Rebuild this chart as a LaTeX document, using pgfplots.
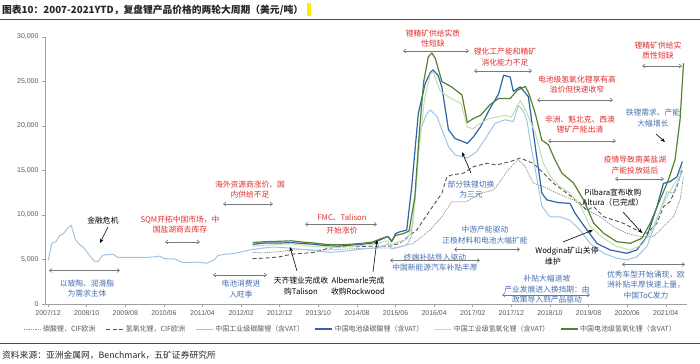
\documentclass[border=0pt]{standalone}
\usepackage{fontspec}
\setmainfont{Noto Sans CJK SC}
\newfontfamily\arialf{Liberation Sans}
\usepackage{pgfplots}
\pgfplotsset{compat=1.18}
\usetikzlibrary{arrows.meta}
\definecolor{ltblue}{RGB}{160,196,230}
\definecolor{dkblue}{RGB}{46,100,170}
\definecolor{ltgreen}{RGB}{200,220,172}
\definecolor{dkgreen}{RGB}{84,130,53}
\definecolor{dotgray}{RGB}{150,150,150}
\definecolor{dashgray}{RGB}{85,85,85}
\definecolor{axisgray}{RGB}{160,160,160}
\definecolor{ticktext}{RGB}{89,89,89}
\definecolor{redtxt}{RGB}{225,45,45}
\definecolor{bluetxt}{RGB}{70,110,175}
\definecolor{arrgray}{RGB}{120,120,120}
\newcommand\af{\fontsize{7.8}{10.5}\selectfont}
\begin{document}
\begin{tikzpicture}
\path[use as bounding box] (0,0) rectangle (700bp,364bp);
\begin{axis}[
  at={(45bp,60bp)}, anchor=south west, scale only axis,
  width=642bp, height=267bp,
  xmin=-0.8, xmax=165.5, ymin=0, ymax=30000,
  axis x line=bottom, axis y line=left,
  axis line style={-, draw=axisgray, line width=0.5bp},
  xtick={0,10,...,160},
  xticklabels={2007/12,2008/10,2009/08,2010/06,2011/04,2012/02,2012/12,2013/10,2014/08,2015/06,2016/04,2017/02,2017/12,2018/10,2019/08,2020/06,2021/04},
  ytick={0,5000,...,30000},
  scaled ticks=false,
  /pgf/number format/fixed, /pgf/number format/1000 sep={,}, /pgf/number format/assume math mode=true,
  tick align=outside, major tick length=3bp,
  tick style={draw=axisgray, line width=0.5bp},
  ticklabel style={font=\arialf\fontsize{7}{8}\selectfont, text=ticktext},
  legend style={at={(0.476,-0.094)}, anchor=center, draw=none, fill=none,
    font=\fontsize{7}{8}\selectfont, text=ticktext,
    /tikz/every even column/.append style={column sep=8.5bp}},
  legend columns=6, legend cell align=left,
  every axis plot/.append style={line join=round},
]
% carbonate CIF Europe
\addplot[dotgray, line width=0.8bp, dash pattern=on 1.3bp off 1bp] coordinates {
(53,5800)(56,5750)(60,5900)(63,6050)(66,6100)(70,6050)(74,6100)(78,6200)(82,6250)(86,6300)(90,6300)(94.6,6820)(99,8320)(102,9810)(104.6,11500)(108.4,11500)(112,12440)(115.4,12800)(117.5,14000)(119,15000)(121.8,16200)(123.5,15500)(125.7,13570)(128.3,13190)(131.8,12440)(136.1,11690)(140.4,10380)(143,9810)(146.5,8690)(149.9,7950)(153.4,7570)(156.8,7570)(159.4,8690)(162,9810)(163.7,11690)(164.6,14300)};
\addlegendentry{碳酸锂，CIF欧洲}
% hydroxide CIF Europe
\addplot[dashgray, line width=0.9bp, dash pattern=on 4bp off 2.5bp] coordinates {
(53,5100)(56,5150)(60,5300)(63,5600)(66,5700)(69,5800)(72,6200)(75.6,6450)(80,6450)(85,6500)(88.6,6500)(91,6820)(95.5,8320)(99,10570)(102,12440)(103.3,14300)(104.6,14500)(107.6,14700)(110.2,15430)(113.6,15800)(116.2,15620)(119.7,16000)(122.3,16400)(125.7,15800)(128.3,14700)(130.9,13570)(134.4,12440)(137.8,11320)(139.5,10500)(141.3,10940)(143.9,9810)(146.5,9440)(149,9070)(151.6,8500)(153.4,8130)(155.1,7950)(157.7,9070)(159.4,10940)(161.1,11500)(162.9,13190)(164.2,15060)};
\addlegendentry{氢氧化锂，CIF欧洲}
% China industrial carbonate
\addplot[ltblue, line width=1bp] coordinates {
(0,4870)(1,6850)(2,7000)(3,7700)(4,7900)(5,8500)(6,8850)(7,7300)(8,6750)(9,6400)(10,5900)(11,5300)(12,4780)(13,4800)(14,5400)(15,5550)(17,5550)(18,5250)(22,5250)(26,5250)(28,5320)(29,5380)(30,5100)(33,5050)(34,4800)(35,4650)(39,4700)(41,4580)(43,4950)(44,5450)(46,5600)(48,5650)(50,5850)(52,6050)(55,6250)(58,6400)(61,6350)(64,6200)(67,6100)(70,5950)(73,5800)(76,5900)(79,6050)(82,6200)(85,6300)(87,6500)(88,6800)(89,6200)(90,6300)(92,6500)(93,6700)(94,7500)(95,11500)(96.4,19500)(98,21300)(99,21800)(100.7,21100)(102,19600)(103.7,17700)(105.4,16750)(108.6,16400)(111,17100)(113.6,18800)(115.8,20300)(118.4,20700)(120.5,20500)(121.8,22300)(123,21800)(124,20700)(125,18000)(126.2,15100)(127.9,11000)(130,9800)(132.6,9800)(135.2,9400)(137.8,8300)(140.4,6800)(143.9,5700)(147.3,5150)(149.9,4950)(152.5,5300)(155.1,6450)(157.7,9450)(160.3,12600)(162,12450)(163.7,14300)(164.4,15000)};
\addlegendentry{中国工业级碳酸锂（含VAT）}
% China battery carbonate
\addplot[dkblue, line width=1.2bp] coordinates {
(53,6700)(56,6850)(60,6850)(63,6900)(66,6800)(69,6700)(72,6550)(75,6500)(78,6600)(81,6700)(84,6850)(86,7200)(87,7400)(88,7600)(89,7000)(90,7900)(91,8100)(92.9,8300)(94.2,13200)(95.9,21400)(97.7,24800)(99,26000)(99.7,26300)(101,25700)(102,24400)(103.7,19600)(105.4,18600)(108.6,18050)(110.2,18800)(112,19900)(114.5,22000)(116.7,23600)(118,25700)(119.7,25500)(120.5,23900)(122.3,24400)(124.4,23300)(126.2,17700)(127.9,12450)(129.2,11700)(132,11400)(135.2,11300)(136.5,10200)(139.6,8300)(142.2,6800)(145.6,6070)(149.9,5700)(152.5,6070)(155.1,7570)(157.7,10900)(159.4,13550)(161.1,13750)(162.9,14300)(164.3,16000)};
\addlegendentry{中国电池级碳酸锂（含VAT）}
% China industrial hydroxide
\addplot[ltgreen, line width=1bp] coordinates {
(53,6500)(56,6600)(60,6700)(63,6750)(66,6600)(69,6450)(72,6400)(75,6350)(78,6450)(81,6550)(84,6700)(86,6900)(88,7100)(89,6600)(90,6900)(92,7100)(93,7300)(94.5,9000)(96,17000)(97.5,23000)(99,25800)(99.7,26100)(101.6,23900)(104,23200)(107,22500)(108.6,19900)(110,19700)(112,20300)(114,20800)(116,21000)(118.5,21200)(120,21000)(122.3,22900)(124,21500)(126.2,19200)(128.3,15800)(130.5,14100)(132.6,13200)(135.2,12450)(137.8,11150)(140.4,8700)(143.9,7400)(147.3,6450)(150.8,6070)(153.8,6630)(156.4,8300)(159,10950)(161,12600)(162.9,14000)(164.2,15400)};
\addlegendentry{中国工业级氢氧化锂（含VAT）}
% China battery hydroxide
\addplot[dkgreen, line width=1.2bp] coordinates {
(53,6900)(56,7000)(60,7050)(63,7100)(66,6950)(69,6850)(72,6700)(75,6650)(78,6700)(81,6800)(84,6950)(86,7300)(88,7600)(89,7100)(90,7700)(92,7900)(93.5,8200)(95,12000)(96.2,19500)(97.3,25000)(98.5,27800)(99.4,28200)(100.3,27600)(102,25000)(104.5,24400)(107.2,23500)(108.6,20400)(110,20800)(112,21200)(114.5,22400)(116.7,23100)(119.7,23100)(121.5,24000)(123.6,24450)(124.5,23700)(126.2,21400)(127.9,18400)(129.6,17900)(131.3,16200)(133.1,14700)(136.1,13600)(138.7,11700)(141.3,9100)(143.9,7950)(147.3,7000)(150.8,6820)(153.8,7380)(156,9100)(158.5,11700)(160.7,13950)(162.4,16200)(163.7,20700)(164.6,27050)};
\addlegendentry{中国电池级氢氧化锂（含VAT）}
\end{axis}

\begin{scope}[x=1bp,y=-1bp,shift={(0bp,364bp)}]
% title
\node[anchor=west, inner sep=0, font=\bfseries\fontsize{9.8}{12}\selectfont, text=black!85] (T) at (2,10) {图表10：2007-2021YTD，复盘锂产品价格的两轮大周期（美元/吨）};
\fill[yellow!95!orange] ([xshift=4bp]T.east |- 0,3.5) rectangle ([xshift=7.5bp]T.east |- 0,16);
\draw[black!70, line width=0.8bp] (0,19) -- (700,19);
\draw[black!70, line width=0.8bp] (0,343) -- (700,343);
\node[anchor=west, inner sep=0, font=\fontsize{8.8}{10}\selectfont, text=black!85] at (2,355) {资料来源：亚洲金属网，Benchmark，五矿证券研究所};

\tikzset{dbl/.style={{Straight Barb[length=2.5bp,width=4bp]}-{Straight Barb[length=2.5bp,width=4bp]}, arrgray, line width=0.6bp},
         ptr/.style={-{Stealth[length=4.5bp,width=3.5bp]}, black, line width=0.6bp},
         ann/.style={align=center, inner sep=0, font=\af}}
% annotations
\node[ann, text=black] at (103,221) {金融危机};
\draw[ptr] (108,227) -- (100,243);
\node[ann, text=bluetxt] at (87,288.5) {以玻陶、润滑脂\\为需求主体};
\draw[dbl] (49,270.5) -- (120,270.5);
\node[ann, text=redtxt] at (180,224.5) {SQM开拓中国市场，中\\国盐湖商去库存};
\draw[dbl] (165,242) -- (200,242);
\node[ann, text=redtxt] at (250,189.5) {海外资源商涨价、国\\内供给不足};
\draw[dbl] (223,204) -- (273,204);
\node[ann, text=bluetxt] at (241,289) {电池消费进\\入旺季};
\draw[dbl] (213,275) -- (267,275);
\node[ann, text=black] at (301,286) {天齐锂业完成收\\购Talison};
\draw[ptr] (297,271) -- (290,247);
\node[ann, text=redtxt] at (342,218) {FMC、Talison};
\node[ann, text=redtxt] at (342,230.5) {开始涨价};
\draw[dbl] (305,224.3) -- (377,224.3);
\node[ann, text=black] at (358,286) {Albemarle完成\\收购Rockwood};
\draw[ptr] (373,272) -- (377,240);
\node[ann, text=redtxt] at (433,38.5) {锂精矿供给实质\\性短缺};
\draw[dbl] (403,51) -- (469,51);
\node[ann, text=redtxt] at (505,57) {锂化工产能和精矿\\消化能力不足};
\draw[dbl] (474,71) -- (532,71);
\node[ann, text=redtxt] at (577,84.5) {电池级氢氧化锂享有高\\溢价但快速收窄};
\draw[dbl] (537,100) -- (613,100);
\node[ann, text=redtxt] at (580,124.5) {非洲、魁北克、西澳\\锂矿产能出清};
\draw[dbl] (548,141) -- (616,141);
\node[ann, text=bluetxt] at (653,118) {铁锂需求、产能\\大幅增长};
\draw[ptr] (656,134) -- (665,142);
\node[ann, text=redtxt] at (635,165) {疫情导致南美盐湖\\产能投放延后};
\draw[dbl] (615,179) -- (664,179);
\node[ann, text=black] at (613,197.5) {Pilbara宣布收购\\Altura（已完成）};
\draw[ptr] (623,212) -- (642,233);
\node[ann, text=black] at (567,251.5) {Wodgina矿山关停};
\node[ann, text=black] at (553,262) {维护};
\draw[ptr] (563,242) -- (593,230);
\node[ann, text=bluetxt] at (646,285) {优秀车型开始涌现，欧\\洲补贴丰厚快速上量，\\中国ToC发力};
\draw[dbl] (622,264.5) -- (685,264.5);
\node[ann, text=bluetxt] at (547,289.5) {补贴大幅退坡\\产业发展进入换挡期：由\\政策导入到产品驱动};
\draw[dbl] (502,295) -- (590,295);
\node[ann, text=bluetxt] at (485,235) {中游产能驱动\\正极材料和电池大幅扩能};
\draw[dbl] (454,249.5) -- (520,249.5);
\node[ann, text=bluetxt] at (435,262.5) {终端补贴导入驱动\\中国新能源汽车补贴丰厚};
\draw[dbl] (390,260.5) -- (480,260.5);
\node[ann, text=bluetxt] at (471,189.5) {部分铁锂切换\\为三元};
\draw[ptr] (471,173) -- (462,152);
\node[ann, text=redtxt] at (658,50.5) {锂精矿供给实\\质性短缺};
\draw[dbl] (642,66) -- (682,66);
\end{scope}
\end{tikzpicture}
\end{document}
